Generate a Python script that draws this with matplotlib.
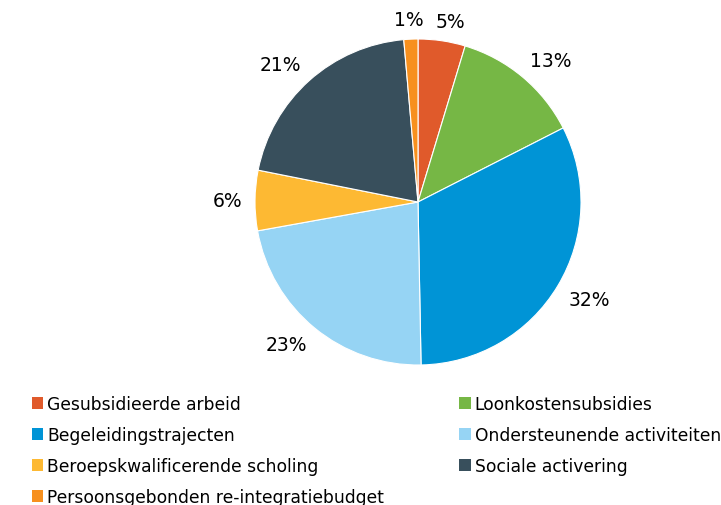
import numpy as np
import matplotlib.pyplot as plt
from matplotlib.patches import Patch

categories = ['Gesubsidieerde arbeid', 'Loonkostensubsidies', 'Begeleidingstrajecten',
              'Ondersteunende activiteiten', 'Beroepskwalificerende scholing',
              'Sociale activering', 'Persoonsgebonden re-integratiebudget']
shares = [4.7, 12.9, 32.4, 22.6, 6.0, 20.6, 1.4]
pct_labels = ['5%', '13%', '32%', '23%', '6%', '21%', '1%']
colors = ['#E05A2B', '#76B745', '#0094D6', '#96D4F4', '#FDB933', '#384F5C', '#F7901E']

fig = plt.figure(figsize=(7.21, 5.06), dpi=100)

# pie centre at (418, 203) px from top-left, radius 163 px
lim = 1.4
r_px = 163 * lim
ax = fig.add_axes([(418 - r_px) / 721, (303 - r_px) / 506, 2 * r_px / 721, 2 * r_px / 506])
wedges, _ = ax.pie(shares, colors=colors, startangle=90, counterclock=False,
                   wedgeprops=dict(edgecolor='white', linewidth=0.8))
ax.set_xlim(-lim, lim)
ax.set_ylim(-lim, lim)
ax.set_aspect('auto')
ax.axis('off')

# "outside end" labels: the corner of the text box nearest the pie sits just outside the rim
fs = 13.5
for w, lab in zip(wedges, pct_labels):
    ang = np.deg2rad((w.theta1 + w.theta2) / 2)
    c, s = np.cos(ang), np.sin(ang)
    tw = (0.636 * (len(lab) - 1) + 0.95) * fs   # text width, points
    th = 0.75 * fs                              # digit height, points
    dx = np.clip(3 * c, -1, 1) * tw / 2
    dy = np.clip(3 * s, -1, 1) * th / 2
    ax.annotate(lab, xy=(1.075 * c, 1.075 * s), xytext=(dx, dy),
                textcoords='offset points', ha='center', va='center',
                fontsize=fs, annotation_clip=False)

# legend filled row by row like the original
order = [0, 2, 4, 6, 1, 3, 5]
handles = [Patch(facecolor=colors[i], edgecolor='none') for i in order]
fig.legend(handles, [categories[i] for i in order], ncol=2, loc='upper left',
           bbox_to_anchor=(32 / 721, 1 - 396 / 506), frameon=False,
           fontsize=12.3, handlelength=0.65, handleheight=0.65,
           handletextpad=0.25, columnspacing=4.4, labelspacing=0.76,
           borderpad=0, borderaxespad=0)

fig.savefig('out.png', dpi=100)
